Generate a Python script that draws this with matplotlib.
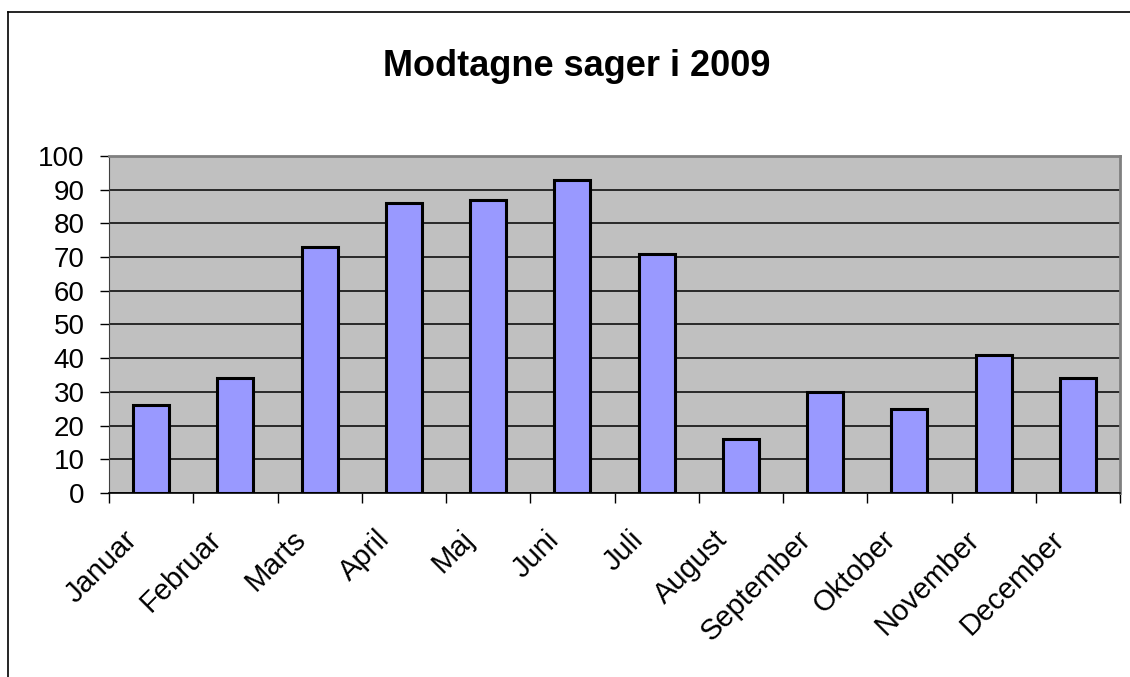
import matplotlib.pyplot as plt
from matplotlib.lines import Line2D
from matplotlib.transforms import ScaledTranslation

plt.rcParams['font.family'] = ['Liberation Sans', 'DejaVu Sans']

# data
months = ["Januar", "Februar", "Marts", "April", "Maj", "Juni", "Juli",
          "August", "September", "Oktober", "November", "December"]
cases = [26, 34, 73, 86, 87, 93, 71, 16, 30, 25, 41, 34]
yticks = list(range(0, 101, 10))

fig = plt.figure(figsize=(11.3, 6.77), dpi=100)
ax = fig.add_axes([109 / 1130, 1 - 493 / 677, 1011 / 1130, 337 / 677])

x = list(range(len(months)))
ax.bar(x, cases, width=0.43, color="#9999ff", edgecolor="black", linewidth=2.2, zorder=3)

ax.set_facecolor("#c0c0c0")
ax.set_xlim(-0.5, len(months) - 0.5)
ax.set_ylim(0, 100)
ax.set_yticks(yticks)
ax.tick_params(axis="y", labelsize=20, length=6.5, width=1, pad=11, direction="out")
ax.yaxis.grid(True, color="black", linewidth=1.1, zorder=1)
ax.set_axisbelow(True)

# category boundary ticks like excel, labels at centres
ax.set_xticks([i - 0.5 for i in range(len(months) + 1)])
ax.set_xticklabels([])
ax.tick_params(axis="x", length=7, width=1, direction="out")
ax.set_xticks(x, minor=True)
ax.set_xticklabels(months, minor=True, rotation=45, ha="right", va="top",
                   rotation_mode="anchor", fontsize=21)
ax.tick_params(axis="x", which="minor", length=0, pad=16)
shift = ScaledTranslation(-0.28, -0.10, fig.dpi_scale_trans)
for lbl in ax.get_xticklabels(minor=True):
    lbl.set_transform(lbl.get_transform() + shift)

for side in ["top", "right"]:
    ax.spines[side].set_color("#808080")
    ax.spines[side].set_linewidth(2)
ax.spines["left"].set_color("#404040")
ax.spines["bottom"].set_color("black")
ax.spines["bottom"].set_linewidth(1.2)

fig.text(577 / 1130, 1 - 66 / 677, "Modtagne sager i 2009", ha="center", va="center",
         fontsize=26, fontweight="bold")

# chart area border (left and top)
fig.add_artist(Line2D([8 / 1130, 8 / 1130], [0, 1 - 12 / 677], color="black", linewidth=1.2))
fig.add_artist(Line2D([8 / 1130, 1], [1 - 12 / 677, 1 - 12 / 677], color="black", linewidth=1.2))

fig.savefig("out.png", dpi=100)
